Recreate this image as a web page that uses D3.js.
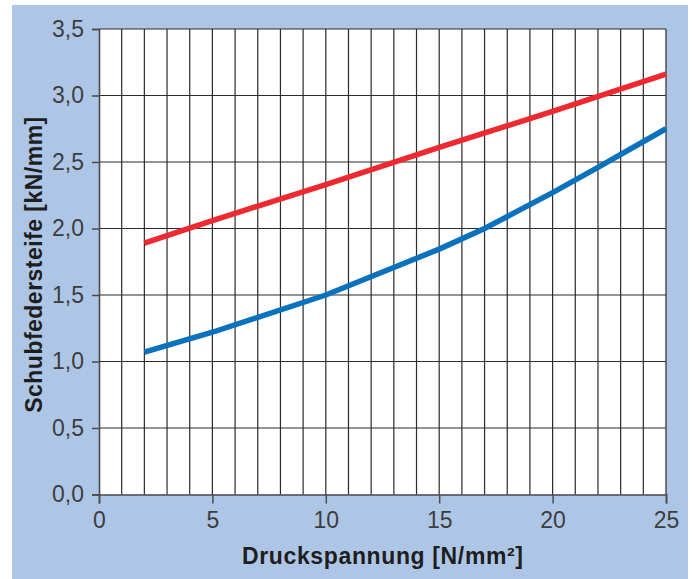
<!DOCTYPE html>
<html>
<head>
<meta charset="utf-8">
<script src="https://cdn.jsdelivr.net/npm/d3@7"></script>
<style>
  html, body { margin: 0; padding: 0; background: #ffffff; }
  svg { display: block; }
</style>
</head>
<body>
<svg id="chart" width="698" height="579"></svg>
<script>
// Schubfedersteife über Druckspannung – two elastomer bearing curves
const xTicks = [0, 5, 10, 15, 20, 25];
const yTicks = [0, 0.5, 1.0, 1.5, 2.0, 2.5, 3.0, 3.5];
const yTickLabels = ["0,0", "0,5", "1,0", "1,5", "2,0", "2,5", "3,0", "3,5"];

const redX = [2, 5, 10, 15, 20, 25];
const redY = [1.89, 2.06, 2.33, 2.61, 2.88, 3.16];

const blueX = [2, 5, 10, 15, 17, 20, 22, 25];
const blueY = [1.07, 1.22, 1.50, 1.845, 2.00, 2.27, 2.46, 2.75];

const xTitle = "Druckspannung [N/mm²]";
const yTitle = "Schubfedersteife [kN/mm]";

const svg = d3.select("#chart");

// panel background
svg.append("rect")
  .attr("x", 12).attr("y", 5)
  .attr("width", 676).attr("height", 574)
  .attr("fill", "#aec6e6");

const plotLeft = 99, plotRight = 666, plotTop = 29, plotBottom = 494.5;

const x = d3.scaleLinear().domain([0, 25]).range([plotLeft, plotRight]);
const y = d3.scaleLinear().domain([0, 3.5]).range([plotBottom, plotTop]);

// plot area
svg.append("rect")
  .attr("x", plotLeft).attr("y", plotTop)
  .attr("width", plotRight - plotLeft).attr("height", plotBottom - plotTop)
  .attr("fill", "#ffffff");

// vertical grid: every unit
const grid = svg.append("g").attr("stroke", "#2b2b2b").attr("stroke-width", 1.2);
grid.selectAll("line.v")
  .data(d3.range(1, 26))
  .join("line")
  .attr("class", "v")
  .attr("x1", d => x(d)).attr("x2", d => x(d))
  .attr("y1", plotTop).attr("y2", plotBottom);

// horizontal grid: every 0.5
grid.selectAll("line.h")
  .data(yTicks.filter(d => d > 0))
  .join("line")
  .attr("class", "h")
  .attr("x1", plotLeft).attr("x2", plotRight)
  .attr("y1", d => y(d)).attr("y2", d => y(d));

// y axis
const yAxis = d3.axisLeft(y)
  .tickValues(yTicks)
  .tickSize(7)
  .tickPadding(8)
  .tickFormat((d, i) => yTickLabels[i]);
const gy = svg.append("g").attr("transform", `translate(${plotLeft},0)`).call(yAxis);
gy.select(".domain").attr("stroke", "#4a4a4a").attr("stroke-width", 1.6);
gy.selectAll(".tick line").attr("stroke", "#4a4a4a").attr("stroke-width", 1.5);
gy.selectAll(".tick text")
  .attr("fill", "#3d3d3d")
  .attr("font-family", "'Liberation Sans', Arial, sans-serif")
  .attr("font-size", 23);

// x axis
const xAxis = d3.axisBottom(x)
  .tickValues(xTicks)
  .tickSize(9)
  .tickPadding(8)
  .tickFormat(d3.format("d"));
const gx = svg.append("g").attr("transform", `translate(0,${plotBottom})`).call(xAxis);
gx.select(".domain").attr("stroke", "#4a4a4a").attr("stroke-width", 1.6);
gx.selectAll(".tick line").attr("stroke", "#4a4a4a").attr("stroke-width", 1.5);
gx.selectAll(".tick text")
  .attr("fill", "#3d3d3d")
  .attr("font-family", "'Liberation Sans', Arial, sans-serif")
  .attr("font-size", 23);

// curves
const line = d3.line().x(d => x(d[0])).y(d => y(d[1]));

svg.append("path")
  .datum(redX.map((d, i) => [d, redY[i]]))
  .attr("d", line)
  .attr("fill", "none")
  .attr("stroke", "#ee2a30")
  .attr("stroke-width", 5.5);

svg.append("path")
  .datum(blueX.map((d, i) => [d, blueY[i]]))
  .attr("d", line)
  .attr("fill", "none")
  .attr("stroke", "#0a72bd")
  .attr("stroke-width", 5.5);

// axis titles
svg.append("text")
  .attr("x", (plotLeft + plotRight) / 2)
  .attr("y", 564)
  .attr("text-anchor", "middle")
  .attr("font-family", "'Liberation Sans', Arial, sans-serif")
  .attr("font-weight", "bold")
  .attr("font-size", 23)
  .attr("fill", "#1e1e1e")
  .attr("textLength", 281)
  .attr("lengthAdjust", "spacing")
  .text(xTitle);

svg.append("text")
  .attr("transform", `translate(42,${(plotTop + plotBottom) / 2 + 3}) rotate(-90)`)
  .attr("text-anchor", "middle")
  .attr("font-family", "'Liberation Sans', Arial, sans-serif")
  .attr("font-weight", "bold")
  .attr("font-size", 23)
  .attr("fill", "#1e1e1e")
  .attr("textLength", 296)
  .attr("lengthAdjust", "spacing")
  .text(yTitle);
</script>
</body>
</html>
